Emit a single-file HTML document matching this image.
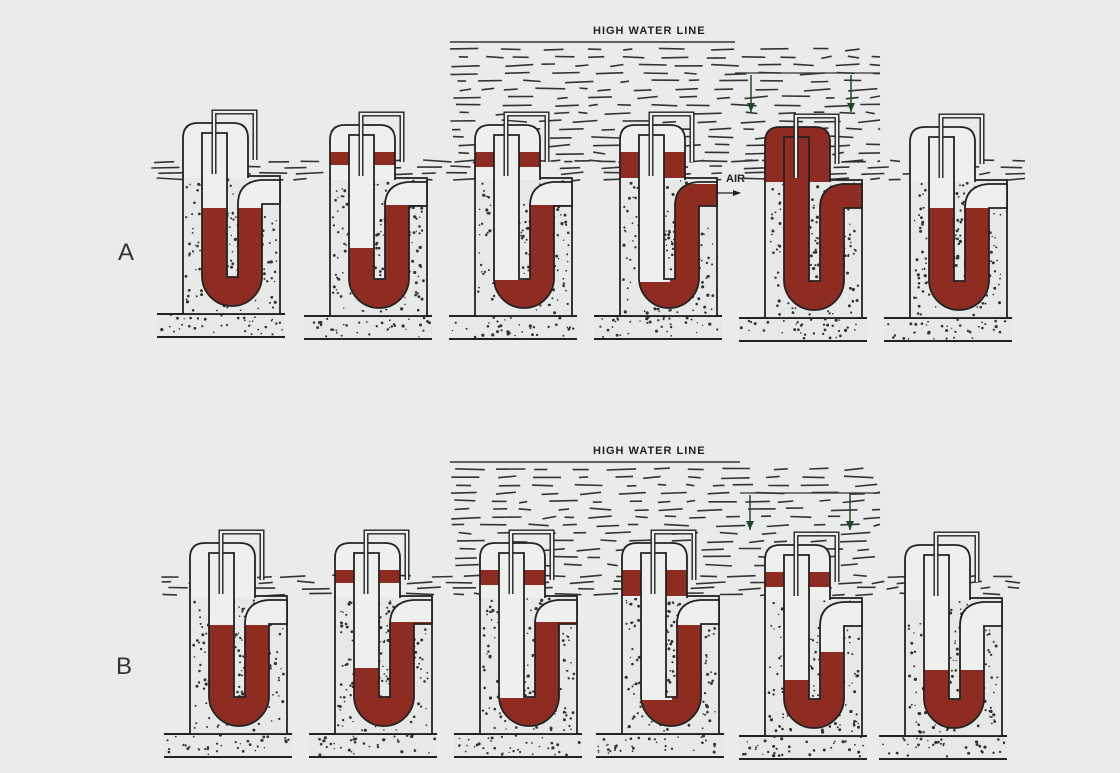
<!DOCTYPE html>
<html><head><meta charset="utf-8"><style>
html,body{margin:0;padding:0;background:#e9ecea;overflow:hidden;width:1120px;height:773px}
svg{display:block}
</style></head><body>
<svg id="s" width="1120" height="773" viewBox="0 0 1120 773" xmlns="http://www.w3.org/2000/svg">
<rect width="1120" height="773" fill="#e9ecea"/>
<text x="118" y="260" font-family="Liberation Sans, sans-serif" font-size="24" fill="#333">A</text>
<text x="116" y="674" font-family="Liberation Sans, sans-serif" font-size="24" fill="#333">B</text>
<text x="593" y="34" font-family="Liberation Sans, sans-serif" font-size="11" font-weight="bold" fill="#222" letter-spacing="1">HIGH WATER LINE</text>
<text x="593" y="454" font-family="Liberation Sans, sans-serif" font-size="11" font-weight="bold" fill="#222" letter-spacing="1">HIGH WATER LINE</text>
<text x="726" y="182" font-family="Liberation Sans, sans-serif" font-size="11" font-weight="bold" fill="#222">AIR</text>
<g id="g"></g>
</svg>
<script>
var g=document.getElementById('g'),h='';
var R='#8e2c22',W='#eef0ee';
var seed=7;function rnd(){seed=(seed*16807)%2147483647;return seed/2147483647;}
function water(x0,y0,x1,y1,step){for(var y=y0;y<=y1;y+=step){var x=x0+rnd()*10;while(x<x1){var l=8+rnd()*22;if(x+l>x1)l=x1-x;h+='<line x1="'+x.toFixed(1)+'" y1="'+(y+rnd()*3).toFixed(1)+'" x2="'+(x+l).toFixed(1)+'" y2="'+(y+rnd()*2).toFixed(1)+'" stroke="#333" stroke-width="1.6"/>';x+=l+8+rnd()*20;}}}
water(450,48,880,165,8);water(150,160,1025,178,6);
h+='<line x1="450" y1="42" x2="735" y2="42" stroke="#333" stroke-width="1.5"/>';
h+='<line x1="735" y1="73" x2="880" y2="73" stroke="#333" stroke-width="1.2"/>';
water(450,468,880,565,8);water(160,575,1020,595,6);
h+='<line x1="450" y1="462" x2="740" y2="462" stroke="#333" stroke-width="1.5"/>';
h+='<line x1="740" y1="493" x2="880" y2="493" stroke="#333" stroke-width="1.2"/>';
function arrow(x,y0,y1){h+='<line x1="'+x+'" y1="'+y0+'" x2="'+x+'" y2="'+y1+'" stroke="#1f4a2a" stroke-width="1.5"/><path d="M'+(x-4)+' '+(y1-9)+'L'+x+' '+y1+'L'+(x+4)+' '+(y1-9)+'Z" fill="#1f4a2a"/>';}
arrow(751,75,112);arrow(851,75,112);arrow(750,495,530);arrow(850,495,530);
h+='<line x1="718" y1="193" x2="740" y2="193" stroke="#222" stroke-width="1.3"/><path d="M733 190L741 193L733 196Z" fill="#222"/>';
function dots(x,y,w,hh){var s='';for(var i=0;i<w*hh/70;i++){s+='<circle cx="'+(x+rnd()*w).toFixed(1)+'" cy="'+(y+rnd()*hh).toFixed(1)+'" r="'+(0.7+rnd()*0.9).toFixed(1)+'" fill="#333"/>';}return s;}
var id=0;
function unit(bx,by,L,Rl,hr,full){id++;var s='';
 s+='<rect x="'+(bx-26)+'" y="'+(by+137)+'" width="128" height="24" fill="#e6e9e7"/>'+dots(bx-24,by+139,124,20);
 s+='<line x1="'+(bx-26)+'" y1="'+(by+138)+'" x2="'+(bx+102)+'" y2="'+(by+138)+'" stroke="#222" stroke-width="2"/>';
 s+='<line x1="'+(bx-26)+'" y1="'+(by+161)+'" x2="'+(bx+102)+'" y2="'+(by+161)+'" stroke="#222" stroke-width="2"/>';
 s+='<rect x="'+bx+'" y="'+by+'" width="97" height="138" fill="#e6e9e7" stroke="#222" stroke-width="1.8"/>'+dots(bx+3,by+3,91,132);
 // hood
 var hp='M'+bx+' '+(by+2)+'L'+bx+' '+(by-38)+'Q'+bx+' '+(by-53)+' '+(bx+15)+' '+(by-53)+'L'+(bx+50)+' '+(by-53)+'Q'+(bx+65)+' '+(by-53)+' '+(bx+65)+' '+(by-38)+'L'+(bx+65)+' '+(by+2);
 s+='<path d="'+hp+'Z" fill="'+(full?R:W)+'"/>';
 if(!full&&hr){s+='<rect x="'+bx+'" y="'+(by-26)+'" width="65" height="'+hr+'" fill="'+R+'"/>';}
 s+='<path d="'+hp+'" fill="none" stroke="#222" stroke-width="1.8"/>';
 // U tube
 var u='M'+(bx+19)+' '+(by-43)+'L'+(bx+19)+' '+(by+100)+'A30 30 0 0 0 '+(bx+79)+' '+(by+100)+'L'+(bx+79)+' '+(by+28)+'L'+(bx+97)+' '+(by+28)+'L'+(bx+97)+' '+(by+4)+'L'+(bx+78)+' '+(by+4)+'Q'+(bx+55)+' '+(by+6)+' '+(bx+55)+' '+(by+28)+'L'+(bx+55)+' '+(by+101)+'L'+(bx+44)+' '+(by+101)+'L'+(bx+44)+' '+(by-43)+'Z';
 s+='<clipPath id="c'+id+'"><path d="'+u+'"/></clipPath>';
 s+='<path d="'+u+'" fill="'+W+'"/>';
 s+='<g clip-path="url(#c'+id+')"><rect x="'+(bx+10)+'" y="'+L+'" width="40" height="300" fill="'+R+'"/><rect x="'+(bx+50)+'" y="'+Rl+'" width="50" height="200" fill="'+R+'"/></g>';
 s+='<path d="'+u+'" fill="none" stroke="#222" stroke-width="1.8"/>';
 // divider wall dots
 s+=dots(bx+45,by+30,9,68);
 // vent pipe
 var vp='M'+(bx+31)+' '+(by-2)+'L'+(bx+31)+' '+(by-64)+'L'+(bx+72)+' '+(by-64)+'L'+(bx+72)+' '+(by-16);
 s+='<path d="'+vp+'" fill="none" stroke="#222" stroke-width="5"/><path d="'+vp+'" fill="none" stroke="'+W+'" stroke-width="2.2"/>';
 h+=s;}
unit(183,176,208,208,0,0);unit(330,178,248,205,13,0);unit(475,178,280,205,15,0);unit(620,178,282,184,26,0);unit(765,180,130,184,0,1);unit(910,180,208,208,0,0);
unit(190,596,625,625,0,0);unit(335,596,668,622,13,0);unit(480,596,698,622,15,0);unit(622,596,700,625,26,0);unit(765,598,680,652,15,0);unit(905,598,670,670,0,0);
g.innerHTML=h;
</script>
</body></html>
